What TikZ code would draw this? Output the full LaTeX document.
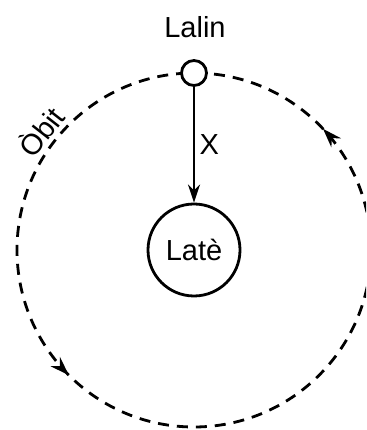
\documentclass[tikz,border=0pt]{standalone}
\usepackage{fontspec}
\setmainfont{Liberation Sans}
\usetikzlibrary{arrows.meta, positioning, decorations.markings}

\begin{document}
\begin{tikzpicture}[x=1pt, y=1pt,
    every node/.style={font=\fontsize{29}{34}\selectfont},
    body/.style={circle, draw, line width=2.8pt, fill=white, inner sep=0pt},
    orbitline/.style={line width=2.8pt, dash pattern=on 11pt off 8pt,
      decoration={markings,
        mark=at position 0.12 with {\arrow{Stealth[length=19pt, width=13pt]}},
        mark=at position 0.625 with {\arrow{Stealth[length=19pt, width=13pt]}}},
      postaction=decorate},
    pull/.style={-{Stealth[length=18pt, width=12pt]}, line width=2.4pt}]
  \useasboundingbox (0,0) rectangle (366,430);
  \clip (0,0) rectangle (366,430);
  % orbit and bodies
  \coordinate (centre) at (194,180);
  \draw[orbitline] (centre) ++(177,0) arc[start angle=0, end angle=360, radius=177];
  \node[body, minimum size=92pt] (earth) at (centre) {Latè};
  \node[body, minimum size=25pt] (moon) at (194,357) {};
  \node (moonlabel) at (195,403) {Lalin};
  \node[rotate=52] (orbitlabel) at (40,299) {Òbit};
  % pull of the earth
  \draw[pull] (moon) -- (earth) node[midway, right=1pt] (pulllabel) {X};
\end{tikzpicture}
\end{document}
